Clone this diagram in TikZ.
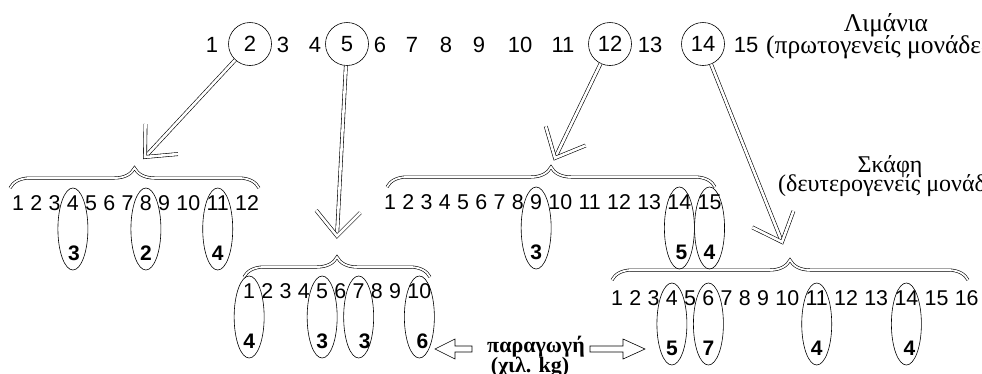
\documentclass[tikz,border=0pt]{standalone}
\usepackage{fontspec}
\setmainfont{Liberation Serif}
\newfontfamily\arialf{Liberation Sans}
\usetikzlibrary{shapes.geometric,decorations.pathreplacing,calc}
\newcommand\numrow[4]{%
  \node[num] (#1n1) at (#2,#3) {1};
  \foreach \i [evaluate=\i as \j using {int(\i-1)}] in {2,...,#4}
    \node[num] (#1n\i) at ([xshift=5.95pt]#1n\j.east) {\i};
}
\begin{document}
\begin{tikzpicture}[x=1pt,y=-1pt,
  topnum/.style={font=\arialf\fontsize{22}{24}\selectfont, inner sep=0pt},
  num/.style={font=\arialf\fontsize{21.4}{24}\selectfont, inner sep=0pt, anchor=west},
  val/.style={font=\arialf\bfseries\fontsize{21}{24}\selectfont, inner sep=0pt},
  ring/.style={circle, draw, line width=0.6pt, minimum size=43pt, inner sep=0pt},
  oval/.style={ellipse, draw, line width=0.6pt, minimum width=30pt, minimum height=82pt, inner sep=0pt},
  dbl/.style={draw, double, double distance=2.6pt, line width=0.6pt, line join=miter},
  bracex/.style={draw, double, double distance=1.8pt, line width=0.6pt, decorate, decoration={brace, amplitude=20pt}},
  plbl/.style={font=\fontsize{25.5}{27}\selectfont, inner sep=0pt},
  lbl/.style={font=\fontsize{24}{26}\selectfont, inner sep=0pt},
  blbl/.style={font=\bfseries\fontsize{22}{24}\selectfont, inner sep=0pt},
  blk/.style={draw, line width=0.6pt, fill=white},
]
\useasboundingbox (0,0) rectangle (982,373);
\clip (0,0) rectangle (982,373);

% top row (ports)
\foreach \n/\x in {1/212,3/283,4/315,6/380,7/412,8/446,9/479,10/520,11/563,13/650,15/746}
  \node[topnum] (t\n) at (\x,45) {\n};
\foreach \n/\x in {2/250,5/347,12/610,14/703}
  \node[topnum, ring] (t\n) at (\x,44) {\n};

\node[plbl, anchor=base] (ports) at (886,31) {Λιμάνια};
\node[plbl, anchor=base west] (portsub) at (766,53) {(πρωτογενείς μονάδες)};
\node[lbl, anchor=base] (ships) at (890,172) {Σκάφη};
\node[lbl, anchor=base west] (shipsub) at (778,191) {(δευτερογενείς μονάδες)};

% rows of vessels
\numrow{a}{12}{203}{12}
\numrow{b}{384}{202}{15}
\numrow{c}{243}{291}{10}
\numrow{d}{611}{298}{16}

% braces
\draw[bracex] (10,188) -- (259,188);
\draw[bracex] (387,187) -- (715,187);
\draw[bracex] (244,277) -- (430,277);
\draw[bracex] (612,280) -- (968,280);

% arrow tips
\coordinate (pa) at (145,157);
\coordinate (pb) at (337,236);
\coordinate (pc) at (555,158);
\coordinate (pd) at (782,242);

\foreach \s/\p in {t2/pa,t5/pb,t12/pc,t14/pd}{
  \draw[dbl] (\s) -- (\p);
  \draw[dbl] ($(\p)!33pt!42:(\s)$) -- (\p) -- ($(\p)!33pt!-42:(\s)$);
}

% ovals and production values
\foreach \r/\k/\v/\dx in {a/4/3/1,a/8/2/0,a/11/4/0,b/9/3/0,b/14/5/2,b/15/4/0,c/1/4/0,c/5/3/0,c/7/3/6,c/10/6/3,d/4/5/0,d/6/7/0,d/11/4/0,d/14/4/3}{
  \node[oval] (o\r\k) at ($(\r n\k)+(0,26)$) {};
  \node[val] (v\r\k) at ($(o\r\k)+(\dx,24)$) {\v};
}

% production label and block arrows
\node[blbl, anchor=base] (prod) at (536,352) {παραγωγή};
\node[blbl, anchor=base] (unit) at (530,372) {(χιλ. kg)};
\coordinate (la) at (435,349);
\coordinate (ra) at (645,349);
\draw[blk] (la) -- ++(20,-10) -- ++(0,7) -- ++(17,0) -- ++(0,6) -- ++(-17,0) -- ++(0,7) -- cycle;
\draw[blk] (ra) -- ++(-22,-10) -- ++(0,7) -- ++(-33,0) -- ++(0,6) -- ++(33,0) -- ++(0,7) -- cycle;
\end{tikzpicture}
\end{document}
